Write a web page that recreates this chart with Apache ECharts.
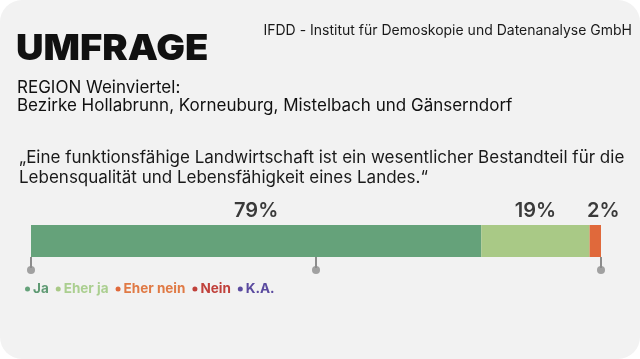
<!DOCTYPE html>
<html><head><meta charset="utf-8">
<script src="https://cdn.jsdelivr.net/npm/echarts@6/dist/echarts.min.js"></script>
<style>
html,body{margin:0;padding:0;background:#ffffff;}
#chart{width:640px;height:359px;background:#f2f2f2;border-radius:22px;}
</style></head>
<body><div id="chart"></div>
<script>
const categories = ['Umfrage'];
const seriesNames = ['Ja', 'Eher ja', 'Eher nein', 'Nein', 'K.A.'];
const seriesValues = [[79], [19], [2], [0], [0]];
const seriesColors = ['#65a27a', '#a9c986', '#e0693b', '#c0413b', '#5b4ca0'];
const legendTextColors = ['#5f9a73', '#abcf90', '#e07a45', '#c0413b', '#5a4a9f'];
const tickValues = [0, 50, 100];

const FONT = 'Inter, "Open Sans", sans-serif';
const chart = echarts.init(document.getElementById('chart'));

const barSeries = seriesNames.map((name, i) => ({
  name: name,
  type: 'bar',
  stack: 'total',
  barWidth: 32,
  itemStyle: { color: seriesColors[i] },
  label: {
    show: seriesValues[i][0] > 0,
    position: 'top',
    distance: 4,
    offset: name === 'Eher nein' ? [8, 0] : [0, 0],
    formatter: '{c}%',
    fontFamily: FONT,
    fontWeight: 600,
    fontSize: 20,
    color: '#3a3a3a'
  },
  data: seriesValues[i]
}));

chart.setOption({
  backgroundColor: 'transparent',
  animation: false,
  grid: { left: 31, right: 39, top: 225, height: 32 },
  xAxis: {
    type: 'value', min: 0, max: 100, interval: 50,
    axisLine: { show: false },
    axisTick: { show: true, length: 11, lineStyle: { color: '#8c8c8c', width: 2 } },
    axisLabel: { show: false },
    splitLine: { show: false }
  },
  yAxis: {
    type: 'category', data: categories,
    axisLine: { show: false }, axisTick: { show: false }, axisLabel: { show: false }
  },
  legend: {
    left: 20, top: 277,
    icon: 'circle', itemWidth: 5, itemHeight: 5, itemGap: 7,
    selectedMode: false,
    textStyle: { fontFamily: FONT, fontWeight: 700, fontSize: 13.5, padding: [0, 0, 0, -2] },
    data: seriesNames.map((n, i) => ({ name: n, textStyle: { color: legendTextColors[i] } }))
  },
  graphic: [
    { type: 'text', x: 16, y: 31, scaleX: 1.06, style: { text: 'UMFRAGE', font: '900 36px ' + FONT, fill: '#111111' } },
    { type: 'text', right: 8, top: 24, style: { text: 'IFDD - Institut für Demoskopie und Datenanalyse GmbH', font: '400 14px ' + FONT, fill: '#1a1a1a' } },
    { type: 'text', left: 17, top: 79, style: { text: 'REGION Weinviertel:', font: '400 17px ' + FONT, fill: '#111111' } },
    { type: 'text', left: 17, top: 97, style: { text: 'Bezirke Hollabrunn, Korneuburg, Mistelbach und Gänserndorf', font: '400 17px ' + FONT, fill: '#111111' } },
    { type: 'text', left: 19, top: 148, style: { text: '„Eine funktionsfähige Landwirtschaft ist ein wesentlicher Bestandteil für die\nLebensqualität und Lebensfähigkeit eines Landes.“', font: '400 17px ' + FONT, lineHeight: 20, fill: '#1a1a1a' } }
  ],
  series: barSeries.concat([{
    type: 'scatter',
    symbol: 'circle',
    symbolSize: 8,
    symbolOffset: [0, 29],
    itemStyle: { color: '#8c8c8c' },
    silent: true,
    data: tickValues.map(v => [v, categories[0]])
  }])
});
</script></body></html>
